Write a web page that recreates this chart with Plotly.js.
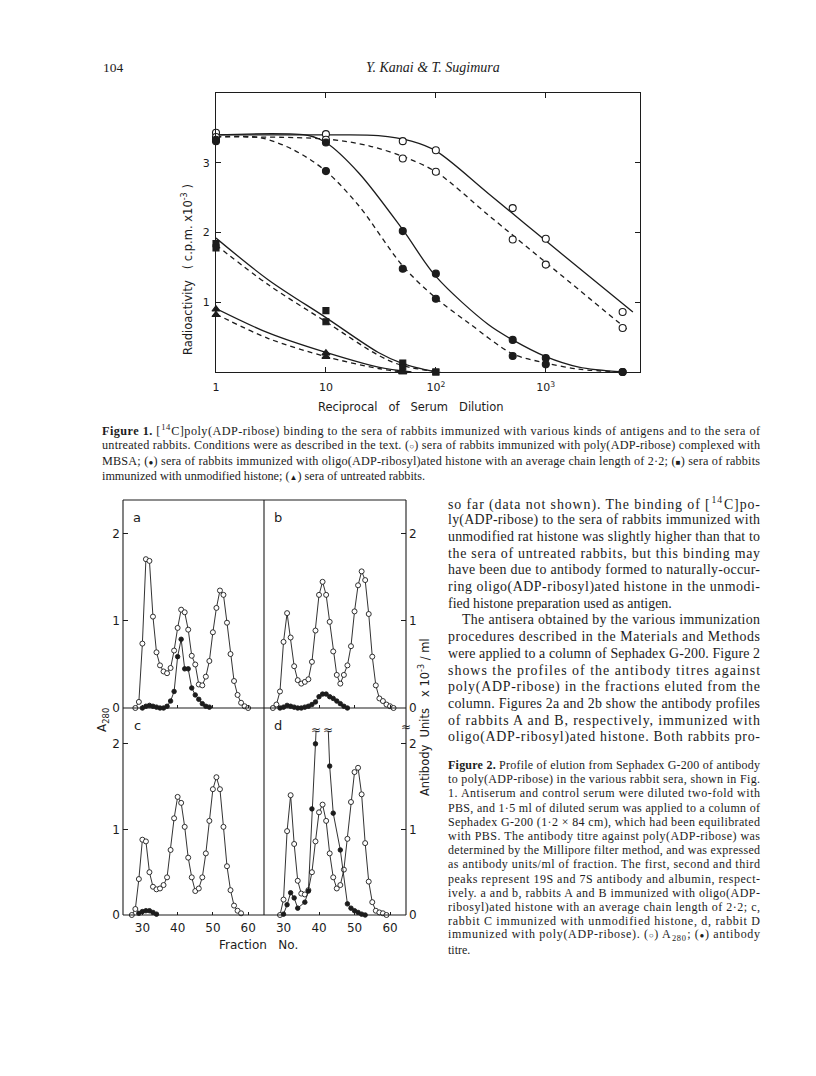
<!DOCTYPE html>
<html>
<head>
<meta charset="utf-8">
<script src="https://cdn.plot.ly/plotly-3.0.1.min.js"></script>
<style>
  html, body { margin: 0; padding: 0; background: #fff; }
  #page { width: 816px; height: 1076px; }
</style>
</head>
<body>
<div id="page"></div>
<script>
// ---- Figure 1: binding vs reciprocal serum dilution ----
const dilution = [1, 10, 50, 100, 500, 1000, 5000];
const polyA = [3.43, 3.41, 3.31, 3.18, 2.35, 1.91, 0.86];
const polyB = [3.37, 3.33, 3.06, 2.87, 1.90, 1.54, 0.63];
const oligoA = [3.31, 3.29, 2.02, 1.41, 0.46, 0.20, 0.0];
const oligoB = [3.33, 2.88, 1.48, 1.05, 0.23, 0.11, 0.0];
const histDil = [1, 10, 50, 100];
const histA = [1.84, 0.88, 0.13, 0.0];
const histB = [1.78, 0.72, 0.07, 0.0];
const normDil = [1, 10, 50];
const normA = [0.90, 0.27, 0.0];
const normB = [0.82, 0.22, 0.0];

// hand drawn fit curves
const polyFitAX = [1, 10, 30, 60, 100, 300, 1000, 6200];
const polyFitAY = [3.40, 3.40, 3.39, 3.31, 3.17, 2.56, 1.88, 0.86];
const polyFitBX = [1, 10, 25, 50, 100, 300, 1000, 5600];
const polyFitBY = [3.37, 3.34, 3.24, 3.09, 2.87, 2.25, 1.57, 0.60];
const oligoFitAX = [1, 7, 10, 20, 50, 100, 300, 500, 1000, 2000, 5000];
const oligoFitAY = [3.40, 3.39, 3.29, 2.85, 2.04, 1.37, 0.68, 0.46, 0.22, 0.07, 0.0];
const oligoFitBX = [1, 2.5, 5, 10, 20, 50, 100, 200, 500, 1000, 2000, 5000];
const oligoFitBY = [3.37, 3.36, 3.19, 2.88, 2.38, 1.52, 1.06, 0.70, 0.26, 0.13, 0.04, 0.0];
const histFitAX = [1, 3, 10, 30, 50, 100];
const histFitAY = [1.92, 1.32, 0.78, 0.28, 0.12, 0.0];
const histFitBX = [1, 3, 10, 30, 50, 110];
const histFitBY = [1.82, 1.25, 0.72, 0.24, 0.09, 0.0];
const normFitAX = [1, 3, 10, 30, 60];
const normFitAY = [0.91, 0.56, 0.28, 0.07, 0.0];
const normFitBX = [1, 3, 10, 30, 50];
const normFitBY = [0.83, 0.48, 0.22, 0.05, 0.0];

// ---- Figure 2: elution profiles (A280 open, antibody filled) ----
const aOpenX = [28,29,30,31,32,33,34,35,36,37,38,39,40,41,42,43,44,45,46,47,48,49,50,51,52,53,54,55,56,57,58,59,60];
const aOpenY = [0.00,0.07,0.74,1.71,1.69,1.05,0.64,0.49,0.42,0.40,0.46,0.66,0.92,1.13,1.10,0.90,0.60,0.50,0.27,0.26,0.36,0.54,0.87,1.15,1.35,1.30,0.98,0.62,0.31,0.15,0.06,0.02,0.00];
const aFillX = [30,31,32,33,34,35,36,37,38,39,40,41,42,43,44,45,46,47,48,49];
const aFillY = [0.00,0.02,0.03,0.02,0.01,0.00,0.00,0.02,0.08,0.19,0.59,0.79,0.45,0.45,0.23,0.15,0.10,0.05,0.02,0.01];

const bOpenX = [27,28,29,30,31,32,33,34,35,36,37,38,39,40,41,42,43,44,45,46,47,48,49,50,51,52,53,54,55,56,57,58,59,60,61];
const bOpenY = [0.00,0.04,0.19,0.76,1.09,0.81,0.48,0.32,0.28,0.30,0.33,0.53,0.89,1.30,1.45,1.30,0.99,0.65,0.38,0.28,0.38,0.49,0.71,1.11,1.41,1.57,1.47,1.08,0.59,0.26,0.11,0.08,0.04,0.02,0.00];
const bFillX = [29,30,31,32,33,34,35,36,37,38,39,40,41,42,43,44,45,46,47,48];
const bFillY = [0.00,0.01,0.03,0.02,0.01,0.00,0.00,0.01,0.02,0.04,0.07,0.13,0.16,0.16,0.13,0.11,0.08,0.05,0.02,0.00];

const cOpenX = [27,28,29,30,31,32,33,34,35,36,37,38,39,40,41,42,43,44,45,46,47,48,49,50,51,52,53,54,55,56,57,58];
const cOpenY = [0.00,0.07,0.42,0.88,0.86,0.50,0.33,0.30,0.31,0.35,0.44,0.76,1.13,1.38,1.31,1.03,0.67,0.44,0.28,0.31,0.44,0.72,1.10,1.47,1.61,1.47,1.03,0.57,0.29,0.11,0.05,0.02];
const cFillX = [29,30,31,32,33,34];
const cFillY = [0.02,0.04,0.05,0.05,0.03,0.01];

const dOpenX = [29,30,31,32,33,34,35,36,37,38,39,40,41,42,43,44,45,46,47,48,49,50,51,52,53,54,55,56,57,58,59];
const dOpenY = [0.00,0.18,0.98,1.40,0.83,0.40,0.25,0.24,0.29,0.50,0.86,1.20,1.29,1.10,0.72,0.44,0.31,0.35,0.53,0.89,1.32,1.67,1.72,1.41,0.84,0.39,0.15,0.05,0.03,0.02,0.00];
const dFillX = [30,31,32,33,34,36,37,38,39,40,41,42,43,44,46,48,49,50,51,52,53];
const dFillY = [0.01,0.12,0.26,0.20,0.08,0.15,0.28,1.24,2.00,2.90,3.10,2.80,1.74,1.19,0.76,0.13,0.08,0.05,0.03,0.01,0.00];

// ---- page text ----
const sym = (c) => '<span style="font-size:8px">' + c + '</span>';
const headerPage = '104';
const headerAuthors = 'Y. Kanai &amp; T. Sugimura';
const caption1 = [
  '<b>Figure 1.</b> [<sup>14</sup>C]poly(ADP-ribose) binding to the sera of rabbits immunized with various kinds of antigens and to the sera of',
  'untreated rabbits. Conditions were as described in the text. (' + sym('○') + ') sera of rabbits immunized with poly(ADP-ribose) complexed with',
  'MBSA; (' + sym('●') + ') sera of rabbits immunized with oligo(ADP-ribosyl)ated histone with an average chain length of 2·2; (' + sym('■') + ') sera of rabbits',
  'immunized with unmodified histone; (' + sym('▲') + ') sera of untreated rabbits.'
];
const bodyLines = [
  'so far (data not shown). The binding of [<sup>14</sup>C]po-',
  'ly(ADP-ribose) to the sera of rabbits immunized with',
  'unmodified rat histone was slightly higher than that to',
  'the sera of untreated rabbits, but this binding may',
  'have been due to antibody formed to naturally-occur-',
  'ring oligo(ADP-ribosyl)ated histone in the unmodi-',
  'fied histone preparation used as antigen.',
  'The antisera obtained by the various immunization',
  'procedures described in the Materials and Methods',
  'were applied to a column of Sephadex G-200. Figure 2',
  'shows the profiles of the antibody titres against',
  'poly(ADP-ribose) in the fractions eluted from the',
  'column. Figures 2a and 2b show the antibody profiles',
  'of rabbits A and B, respectively, immunized with',
  'oligo(ADP-ribosyl)ated histone. Both rabbits pro-'
];
const caption2 = [
  '<b>Figure 2.</b> Profile of elution from Sephadex G-200 of antibody',
  'to poly(ADP-ribose) in the various rabbit sera, shown in Fig.',
  '1. Antiserum and control serum were diluted two-fold with',
  'PBS, and 1·5 ml of diluted serum was applied to a column of',
  'Sephadex G-200 (1·2 × 84 cm), which had been equilibrated',
  'with PBS. The antibody titre against poly(ADP-ribose) was',
  'determined by the Millipore filter method, and was expressed',
  'as antibody units/ml of fraction. The first, second and third',
  'peaks represent 19S and 7S antibody and albumin, respect-',
  'ively. a and b, rabbits A and B immunized with oligo(ADP-',
  'ribosyl)ated histone with an average chain length of 2·2; c,',
  'rabbit C immunized with unmodified histone, d, rabbit D',
  'immunized with poly(ADP-ribose). (' + sym('○') + ') A<sub>280</sub>; (' + sym('●') + ') antibody',
  'titre.'
];

const W = 816, H = 1076;
const px = (x) => x / W;
const py = (y) => 1 - y / H;
const INK = '#1c1c1c';
const SERIF = 'Liberation Serif, Times New Roman, serif';
const SANS = 'DejaVu Sans, sans-serif';

const traces = [];
function fit(x, y, dash) {
  traces.push({ type: 'scatter', mode: 'lines', x, y, xaxis: 'x', yaxis: 'y', hoverinfo: 'skip',
    line: { color: INK, width: 1.3, shape: 'spline', smoothing: 0.9, dash: dash ? '5px,4px' : 'solid' } });
}
function pts(x, y, symbol, fill, size) {
  traces.push({ type: 'scatter', mode: 'markers', x, y, xaxis: 'x', yaxis: 'y', cliponaxis: false,
    marker: { symbol, size, color: fill, line: { color: INK, width: 1.1 } } });
}
fit(polyFitAX, polyFitAY, false);
fit(polyFitBX, polyFitBY, true);
fit(oligoFitAX, oligoFitAY, false);
fit(oligoFitBX, oligoFitBY, true);
fit(histFitAX, histFitAY, false);
fit(histFitBX, histFitBY, true);
fit(normFitAX, normFitAY, false);
fit(normFitBX, normFitBY, true);
pts(dilution, polyA, 'circle', '#fff', 7);
pts(dilution, polyB, 'circle', '#fff', 7);
pts(dilution, oligoA, 'circle', INK, 7);
pts(dilution, oligoB, 'circle', INK, 7);
pts(histDil, histA, 'square', INK, 6);
pts(histDil, histB, 'square', INK, 6);
pts(normDil, normA, 'triangle-up', INK, 7);
pts(normDil, normB, 'triangle-up', INK, 7);

function profile(x, y, n, open) {
  traces.push({ type: 'scatter', mode: 'lines+markers', x, y, xaxis: 'x' + n, yaxis: 'y' + n, cliponaxis: false,
    line: { color: INK, width: 0.9 },
    marker: { symbol: 'circle', size: open ? 5 : 4.5, color: open ? '#fff' : INK, line: { color: INK, width: 0.9 } } });
}
profile(aOpenX, aOpenY, 2, true); profile(aFillX, aFillY, 2, false);
profile(bOpenX, bOpenY, 3, true); profile(bFillX, bFillY, 3, false);
profile(cOpenX, cOpenY, 4, true); profile(cFillX, cFillY, 4, false);
profile(dOpenX, dOpenY, 5, true); profile(dFillX, dFillY, 5, false);

const tickFont = { family: SANS, size: 11, color: INK };
const fig2X = (dom, anchor, labels) => ({
  domain: dom, anchor, range: [24.5, 64.5], tickvals: [30, 40, 50, 60], showticklabels: labels,
  ticks: 'inside', ticklen: 3, tickcolor: INK, showgrid: false, zeroline: false, showline: false,
  tickfont: { family: SANS, size: 12, color: INK }, ticklabelstandoff: 4
});
const fig2Y = (dom, anchor, side, top) => ({
  domain: dom, anchor, side, range: [0, top], tickvals: [0, 1, 2], ticktext: ['0', '1', '2'],
  ticks: 'inside', ticklen: 5, tickcolor: INK, showgrid: false, zeroline: false, showline: false,
  tickfont: { family: SANS, size: 12, color: INK }, ticklabelstandoff: 2
});

const line = (x0, y0, x1, y1) => ({ type: 'line', xref: 'paper', yref: 'paper',
  x0: px(x0), y0: py(y0), x1: px(x1), y1: py(y1), line: { color: INK, width: 1.1 } });

const annotations = [];
const justify = [];
function note(text, x, y, size, opts = {}) {
  annotations.push({ text, x: px(x), y: py(y), xref: 'paper', yref: 'paper', showarrow: false,
    xanchor: opts.xanchor || 'left', yanchor: 'middle', textangle: opts.angle || 0, align: 'left',
    font: { family: opts.family || SERIF, size, color: INK, style: opts.italic ? 'italic' : 'normal' } });
  justify.push(opts.width || 0);
}

note(headerPage, 101, 67, 13.5);
note(headerAuthors, 433, 67, 14, { xanchor: 'center', italic: true });

caption1.forEach((t, i) => note(t, 100, 430 + i * 15.4, 12.2, { width: i < 3 ? 658 : 0 }));
bodyLines.forEach((t, i) => {
  const indent = i === 7 ? 14 : 0;
  note(t, 446 + indent, 503 + i * 16.7, 13.9, { width: i === 6 ? 0 : 312 - indent });
});
caption2.forEach((t, i) => note(t, 446, 765 + i * 14.2, 12, { width: i < 13 ? 312 : 0 }));

// figure labels
note('Radioactivity&nbsp;&nbsp;&nbsp;( c.p.m.&nbsp;x10<sup>-3</sup> )', 187, 270, 11.5, { family: SANS, angle: -90, xanchor: 'center' });
note('Reciprocal&nbsp;&nbsp;&nbsp;of&nbsp;&nbsp;&nbsp;Serum&nbsp;&nbsp;&nbsp;Dilution', 411, 407, 11.5, { family: SANS, xanchor: 'center' });
note('a', 137, 517, 13, { family: SANS, xanchor: 'center' });
note('b', 278, 517, 13, { family: SANS, xanchor: 'center' });
note('c', 137, 725, 13, { family: SANS, xanchor: 'center' });
note('d', 278, 725, 13, { family: SANS, xanchor: 'center' });
note('≈', 316, 730, 12, { family: SANS, xanchor: 'center' });
note('≈', 328, 730, 12, { family: SANS, xanchor: 'center' });
note('≈', 406, 727, 12, { family: SANS, xanchor: 'center' });
note('A<sub>280</sub>', 103, 720, 12, { family: SANS, angle: -90, xanchor: 'center' });
note('Antibody&nbsp;&nbsp;Units&nbsp;&nbsp;&nbsp;x 10<sup>-3</sup> / ml', 424, 717, 11.5, { family: SANS, angle: -90, xanchor: 'center' });
note('Fraction&nbsp;&nbsp;&nbsp;No.', 258, 945, 12, { family: SANS, xanchor: 'center' });

const layout = {
  width: W, height: H, margin: { l: 0, r: 0, t: 0, b: 0 },
  paper_bgcolor: '#fff', plot_bgcolor: 'rgba(0,0,0,0)', showlegend: false,
  font: { family: SANS, color: INK },
  xaxis: {
    type: 'log', domain: [px(216), px(640)], range: [0, 3.857], anchor: 'y',
    tickvals: [1, 10, 100, 1000], ticktext: ['1', '10', '10<sup>2</sup>', '10<sup>3</sup>'],
    ticks: 'inside', ticklen: 5, tickcolor: INK, mirror: 'ticks', showline: true, linecolor: INK, linewidth: 1.1,
    showgrid: false, zeroline: false, tickfont: tickFont, ticklabelstandoff: 5
  },
  yaxis: {
    domain: [py(372), py(93)], range: [0, 4], anchor: 'x', tickvals: [1, 2, 3],
    ticks: 'inside', ticklen: 5, tickcolor: INK, mirror: 'ticks', showline: true, linecolor: INK, linewidth: 1.1,
    showgrid: false, zeroline: false, tickfont: tickFont, ticklabelstandoff: 3
  },
  xaxis2: fig2X([px(123), px(264)], 'y2', false),
  xaxis3: fig2X([px(264), px(406)], 'y3', false),
  xaxis4: fig2X([px(123), px(264)], 'y4', true),
  xaxis5: fig2X([px(264), px(406)], 'y5', true),
  yaxis2: fig2Y([py(708), py(500)], 'x2', 'left', 2.39),
  yaxis3: fig2Y([py(708), py(500)], 'x3', 'right', 2.39),
  yaxis4: fig2Y([py(915), py(731)], 'x4', 'left', 2.15),
  yaxis5: fig2Y([py(915), py(731)], 'x5', 'right', 2.15),
  shapes: [
    line(123, 500, 406, 500), line(123, 915, 406, 915),
    line(123, 500, 123, 915), line(406, 500, 406, 915),
    line(264, 500, 264, 915), line(123, 708, 406, 708)
  ],
  annotations
};

Plotly.newPlot('page', traces, layout, { staticPlot: true, displayModeBar: false }).then((gd) => {
  // stretch full lines to the column width, like the justified print
  gd.querySelectorAll('g.annotation').forEach((g) => {
    const w = justify[+g.getAttribute('data-index')];
    if (!w) return;
    const t = g.querySelector('text.annotation-text');
    if (t) { t.setAttribute('textLength', w); t.setAttribute('lengthAdjust', 'spacing'); }
  });
});
</script>
</body>
</html>
